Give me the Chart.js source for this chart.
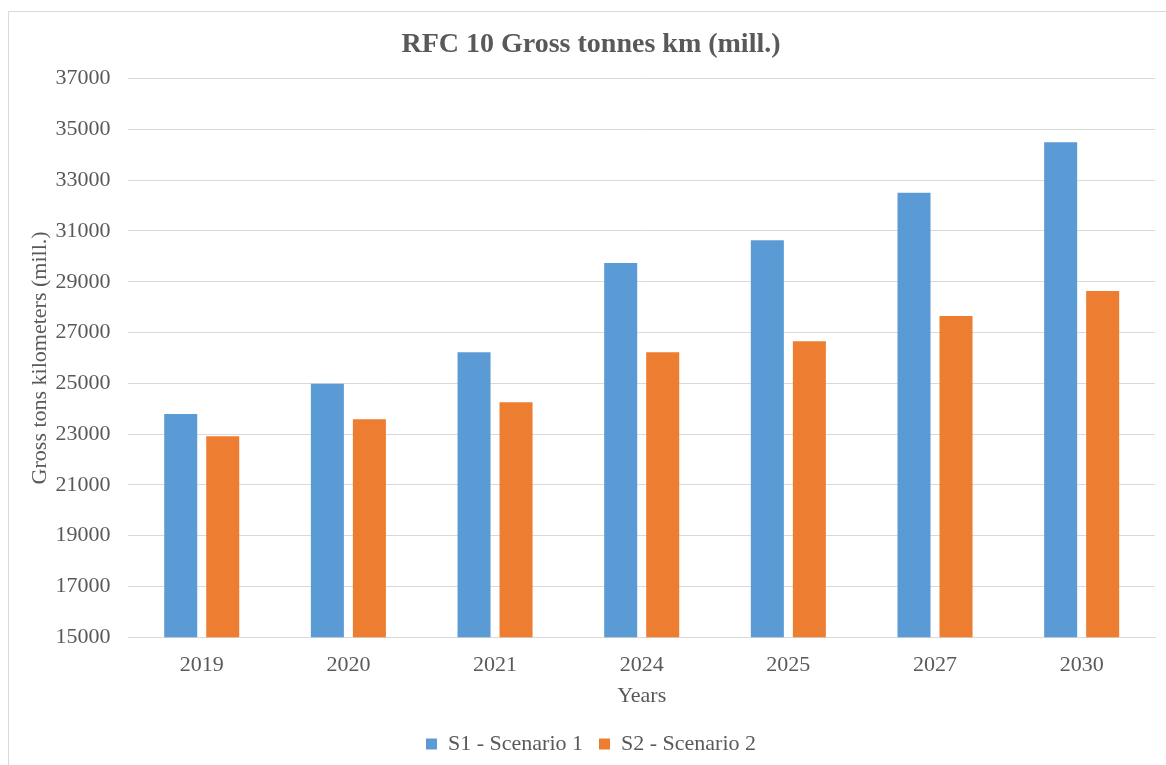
<!DOCTYPE html>
<html>
<head>
<meta charset="utf-8">
<script src="https://cdn.jsdelivr.net/npm/chart.js@4/dist/chart.umd.min.js"></script>
<style>
html,body{margin:0;padding:0;background:#fff;}
#wrap{position:relative;width:1166px;height:765px;overflow:hidden;}
#frame{position:absolute;left:8px;top:11px;width:1200px;height:800px;border:1px solid #d9d9d9;box-sizing:border-box;}
#c{position:absolute;left:0;top:0;}
</style>
</head>
<body>
<div id="wrap">
<div id="frame"></div>
<canvas id="c" width="1166" height="765"></canvas>
</div>
<script>
const categories = ['2019','2020','2021','2024','2025','2027','2030'];
const s1Values = [23790, 24980, 26220, 29740, 30630, 32500, 34490];
const s2Values = [22910, 23580, 24250, 26220, 26660, 27650, 28630];
const seriesNames = ['S1 - Scenario 1','S2 - Scenario 2'];
const yTicks = [15000,17000,19000,21000,23000,25000,27000,29000,31000,33000,35000,37000];

const serif = "'Liberation Serif', 'Times New Roman', serif";
const grey = '#595959';

new Chart(document.getElementById('c'), {
  type: 'bar',
  data: {
    labels: categories,
    datasets: [
      {label: seriesNames[0], data: s1Values, backgroundColor: '#5B9BD5', categoryPercentage: 0.573, barPercentage: 0.786},
      {label: seriesNames[1], data: s2Values, backgroundColor: '#ED7D31', categoryPercentage: 0.573, barPercentage: 0.786}
    ]
  },
  options: {
    responsive: false,
    animation: false,
    devicePixelRatio: 1,
    layout: {padding: {left: 27, right: 11, top: 28, bottom: 0}},
    plugins: {
      title: {
        display: true,
        text: 'RFC 10 Gross tonnes km (mill.)',
        color: grey,
        font: {family: serif, size: 28, weight: 'bold'},
        padding: {top: 0, bottom: 17}
      },
      legend: {
        position: 'bottom',
        labels: {
          color: grey,
          font: {family: serif, size: 22},
          boxWidth: 11, boxHeight: 11,
          padding: 16
        }
      },
      tooltip: {enabled: false}
    },
    scales: {
      x: {
        grid: {display: false},
        border: {color: '#d9d9d9'},
        ticks: {color: grey, font: {family: serif, size: 22}, padding: 7},
        title: {display: true, text: 'Years', color: grey, font: {family: serif, size: 22}, padding: {top: -3, bottom: 8}}
      },
      y: {
        min: 15000, max: 37000,
        afterBuildTicks: (axis) => { axis.ticks = yTicks.map(v => ({value: v})); },
        grid: {color: '#d9d9d9', drawTicks: false},
        border: {display: false},
        ticks: {color: grey, font: {family: serif, size: 22}, padding: 18, callback: (v) => String(v)},
        title: {display: true, text: 'Gross tons kilometers (mill.)', color: grey, font: {family: serif, size: 22}, padding: {top: 0, bottom: -16}}
      }
    }
  }
});
</script>
</body>
</html>
